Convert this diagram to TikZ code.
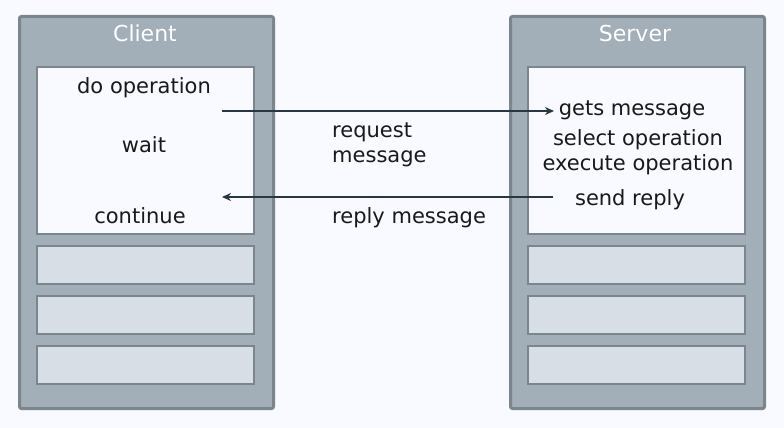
\documentclass[tikz,border=0pt]{standalone}
\usepackage{fontspec}
\setmainfont{DejaVu Sans}
\usetikzlibrary{arrows.meta,positioning}

\definecolor{pagebg}{RGB}{248,250,255}
\definecolor{hostfill}{RGB}{162,174,184}
\definecolor{hostline}{RGB}{122,133,142}
\definecolor{slotfill}{RGB}{216,222,229}
\definecolor{arrowcol}{RGB}{40,55,66}

\tikzstyle{host} = [rectangle, draw=hostline, fill=hostfill, line width=3pt, rounded corners=2pt, anchor=north west, minimum width=254pt, minimum height=392pt, inner sep=0pt]
\tikzstyle{work} = [rectangle, draw=hostline, fill=pagebg, line width=2pt, anchor=north west, minimum width=217pt, minimum height=167pt, inner sep=0pt]
\tikzstyle{slot} = [rectangle, draw=hostline, fill=slotfill, line width=2pt, anchor=north west, minimum width=217pt, minimum height=38pt, inner sep=0pt]
\tikzstyle{title} = [anchor=base, text=white, inner sep=0pt, font=\fontsize{22}{24}\selectfont]
\tikzstyle{txt} = [anchor=base, inner sep=0pt, text=black!90, font=\fontsize{21}{24}\selectfont]
\tikzstyle{msg} = [line width=2.8pt, draw=arrowcol, -{Stealth[length=9pt,width=8pt]}]

\begin{document}
\begin{tikzpicture}[x=1pt,y=-1pt]
        \useasboundingbox[fill=pagebg] (0,0) rectangle (784,428);
        % client side
        \node (client) at (18,15) [host] {};
        \node (cwork) at (36,66) [work] {};
        \foreach \y [count=\i] in {245,295,345}
            \node (cslot\i) at (36,\y) [slot] {};
        \node (ctitle) at (145,42) [title] {Client};
        \node (doop) at (144,93) [txt] {do operation};
        \node (wait) at (144,152) [txt] {wait};
        \node (cont) at (140,223) [txt] {continue};
        % server side
        \node (server) at (509,15) [host] {};
        \node (swork) at (527,66) [work] {};
        \foreach \y [count=\i] in {245,295,345}
            \node (sslot\i) at (527,\y) [slot] {};
        \node (stitle) at (635,42) [title] {Server};
        \node (gets) at (632,115) [txt] {gets message};
        \node (select) at (638,145) [txt] {select operation};
        \node (exec) at (638,170) [txt] {execute operation};
        \node (reply) at (630,205) [txt] {send reply};
        % messages
        \node (req) at (332,137) [txt, anchor=base west] {request};
        \node (req2) at (332,162) [txt, anchor=base west] {message};
        \node (rep) at (332,223) [txt, anchor=base west] {reply message};
        \coordinate (reqstart) at (222,111);
        \coordinate (reqend) at (554,111);
        \coordinate (repstart) at (553,197);
        \coordinate (repend) at (222,197);
        \draw[msg] (reqstart) -- (reqend);
        \draw[msg] (repstart) -- (repend);
\end{tikzpicture}
\end{document}
